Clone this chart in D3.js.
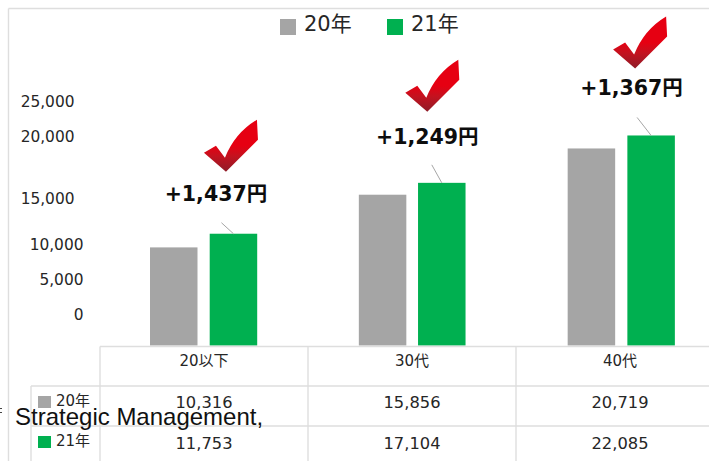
<!DOCTYPE html>
<html><head><meta charset="utf-8">
<script src="https://cdn.jsdelivr.net/npm/d3@7/dist/d3.min.js"></script>
<style>html,body{margin:0;padding:0;background:#fff;overflow:hidden}svg{display:block}</style>
</head><body><svg id="c" width="709" height="461"></svg>
<script>
const categories = ["20以下","30代","40代"];
const values20 = [10316,15856,20719];
const values21 = [11753,17104,22085];
const diffs = ["+1,437円","+1,249円","+1,367円"];
const tickValues = [0,5000,10000,15000,20000,25000];
const seriesNames = ["20年","21年"];
const GRAY="#a5a5a5", GREEN="#00b050", LINE="#dedede";
const FONT='Verdana,"DejaVu Sans","Noto Sans CJK JP",sans-serif';
const svg=d3.select("#c");
const defs=svg.append("defs");
const g=defs.append("linearGradient").attr("id","chk").attr("x1",0).attr("y1",1).attr("x2",0).attr("y2",0);
g.append("stop").attr("offset","0").attr("stop-color","#8e1c28");
g.append("stop").attr("offset","0.3").attr("stop-color","#c4121f");
g.append("stop").attr("offset","0.5").attr("stop-color","#e60012");
g.append("stop").attr("offset","1").attr("stop-color","#e60012");
const ln=(x1,y1,x2,y2)=>svg.append("line").attr("x1",x1).attr("y1",y1).attr("x2",x2).attr("y2",y2).attr("stroke",LINE).attr("stroke-width",1.4);
ln(8.5,8.5,709,8.5); ln(8.5,8.5,8.5,461);
const y=d3.scaleLinear().domain([0,25000]).range([345.5,107.75]);
const x=d3.scaleBand().domain(categories).range([100,725]);
const tickY=d3.scaleLinear().domain(tickValues).range([315,280,245,199,137,102]);
const axis=d3.axisLeft(tickY).tickValues(tickValues).tickFormat(d3.format(",")).tickSize(0).tickPadding(0);
const ag=svg.append("g").attr("transform","translate(83.5,0)").call(axis);
ag.select(".domain").remove();
ag.selectAll("text").attr("font-family",FONT).attr("font-size",15.4).attr("fill","#262626");
ag.selectAll("text").attr("dx",d=>d>=15000?-9:0);
const off20=[50,50.5,51], off21=[109.7,109.7,110.7];
const bw=47.5;
const barG=svg.append("g");
barG.selectAll(".a").data(values20).join("rect").attr("x",(d,i)=>x(categories[i])+off20[i]).attr("width",bw).attr("y",d=>y(d)).attr("height",d=>y(0)-y(d)).attr("fill",GRAY);
barG.selectAll(".b").data(values21).join("rect").attr("x",(d,i)=>x(categories[i])+off21[i]).attr("width",bw).attr("y",d=>y(d)).attr("height",d=>y(0)-y(d)).attr("fill",GREEN);
const check="M0 33L12 26L21 38Q31 13 53 0L54 20L22 52Z";
const labelDx=[-17.5,-14.5,-19.5], labelDy=[33,39,40];
const leadDx=[-12,-10,-14], leadDy=[11,18,18];
const checkDx=[-29.5,-36.5,-38], checkDy=[114,123,119];
values21.forEach((v,i)=>{
  const cx=x(categories[i])+off21[i]+bw/2;
  const top=y(v);
  svg.append("line").attr("x1",cx).attr("y1",top).attr("x2",cx+leadDx[i]).attr("y2",top-leadDy[i]).attr("stroke","#a6a6a6").attr("stroke-width",1);
  svg.append("text").attr("x",cx+labelDx[i]).attr("y",top-labelDy[i]).attr("text-anchor","middle").attr("font-family",FONT).attr("font-size",20.5).attr("font-weight",700).attr("fill","#0d0d0d").text(diffs[i]);
  svg.append("path").attr("d",check).attr("fill","url(#chk)").attr("transform",`translate(${cx+checkDx[i]},${top-checkDy[i]})`);
});
ln(100,346.5,709,346.5); ln(100,346.5,100,461);
categories.forEach((c,i)=>{ if(i) ln(100+i*208,346.5,100+i*208,461); });
ln(31,386,709,386); ln(31,426,709,426); ln(31,386,31,461);
categories.forEach((c,i)=>{
  const mx=204+i*208;
  const t=(s,yy)=>svg.append("text").attr("x",mx).attr("y",yy).attr("text-anchor","middle").attr("font-family",FONT).attr("font-size",s===c?15:16.3).attr("fill","#262626").text(s);
  t(c,366);
  t(d3.format(",")(values20[i]),408);
  t(d3.format(",")(values21[i]),449);
});
seriesNames.forEach((s,i)=>{
  const yy=[406,446][i];
  svg.append("rect").attr("x",38).attr("y",yy-10).attr("width",13).attr("height",12).attr("fill",[GRAY,GREEN][i]);
  svg.append("text").attr("x",56).attr("y",yy).attr("font-family",FONT).attr("font-size",15).attr("fill","#262626").text(s);
  const lx=[280,387][i];
  svg.append("rect").attr("x",lx).attr("y",19).attr("width",16).attr("height",16).attr("fill",[GRAY,GREEN][i]);
  svg.append("text").attr("x",lx+24).attr("y",30.5).attr("font-family",FONT).attr("font-size",21).attr("fill","#262626").text(s);
});
svg.append("path").attr("d","M0 408.5H2M0 412.5H2").attr("stroke","#444").attr("stroke-width",1);
svg.append("text").attr("x",15).attr("y",425).attr("font-family",'"Liberation Sans",Arial,sans-serif').attr("font-size",24).attr("fill","#111").text("Strategic Management,");
</script></body></html>
